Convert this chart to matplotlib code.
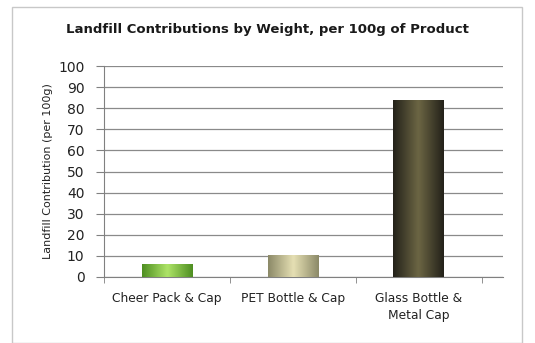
import matplotlib
matplotlib.use("Agg")
import matplotlib.pyplot as plt
import numpy as np
from matplotlib.colors import LinearSegmentedColormap
from matplotlib.patches import Rectangle

categories = ["Cheer Pack & Cap", "PET Bottle & Cap", "Glass Bottle &\nMetal Cap"]
values = [6.2, 10.3, 84]
edge_colors = ["#4f8f22", "#8c8a68", "#24221a"]
mid_colors = ["#aee468", "#e6e0b4", "#6c6644"]
title = "Landfill Contributions by Weight, per 100g of Product"
ylabel = "Landfill Contribution (per 100g)"
yticks = list(range(0, 101, 10))

fig = plt.figure(figsize=(5.35, 3.43), dpi=100)
fig.patch.set_facecolor("white")
fig.patches.append(Rectangle((12/535, 0.0), (522-12)/535, 1-7/343, transform=fig.transFigure,
                             fill=False, edgecolor="#c8c8c8", lw=1.0))
ax = fig.add_axes([104/535, 1-277/343, (503-104)/535, (277-66)/343])

x = np.arange(len(categories))
bars = ax.bar(x, values, width=0.4, color="none", edgecolor="none", zorder=3)
for b, e, m in zip(bars, edge_colors, mid_colors):
    cmap = LinearSegmentedColormap.from_list("c", [e, m, e])
    grad = np.linspace(0, 1, 64).reshape(1, -1)
    x0, y0 = b.get_x(), b.get_y()
    w, h = b.get_width(), b.get_height()
    im = ax.imshow(grad, cmap=cmap, aspect="auto", extent=[x0, x0 + w, y0, y0 + h],
                   zorder=3, interpolation="bicubic")
    im.set_clip_path(b)

ax.set_xlim(-0.5, 2.67)
ax.set_ylim(0, 100)
ax.set_yticks(yticks)
ax.set_xticks(x)
ax.set_xticklabels(categories, fontsize=8.8, color="#222222", linespacing=1.4)
ax.set_xticks([-0.5, 0.5, 1.5, 2.5], minor=True)
ax.tick_params(axis="x", which="major", length=0, pad=11)
ax.tick_params(axis="x", which="minor", length=4, color="#808080", direction="out")
ax.tick_params(axis="y", length=6, color="#808080", labelsize=10, labelcolor="#222222", pad=8)
ax.grid(axis="y", color="#8a8a8a", lw=0.9, zorder=0)
for s in ["top", "right"]:
    ax.spines[s].set_visible(False)
ax.spines["left"].set_color("#808080")
ax.spines["bottom"].set_color("#808080")
ax.set_ylabel(ylabel, fontsize=8, color="#222222", labelpad=4)
fig.text(267/535, 1-30/343, title, ha="center", va="center", fontsize=9.5,
         fontweight="bold", color="#1a1a1a")

fig.savefig("out.png", dpi=100)
